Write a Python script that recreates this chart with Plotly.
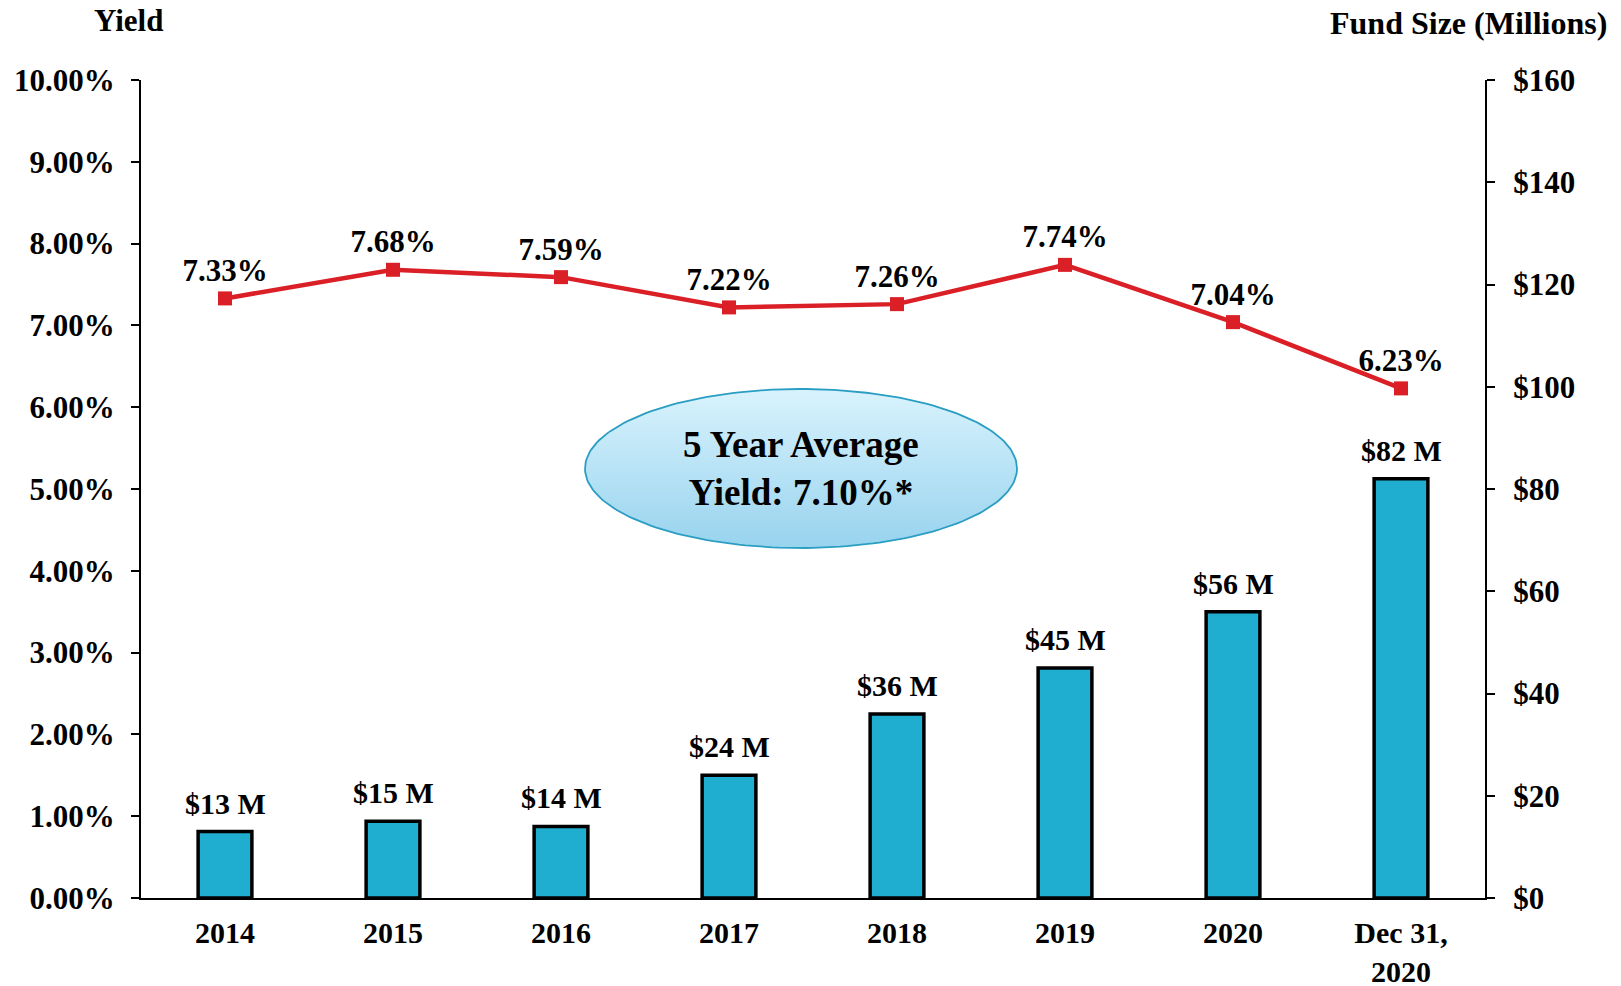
import numpy as np
import plotly.graph_objects as go

categories = ["2014", "2015", "2016", "2017", "2018", "2019", "2020", "Dec 31,<br>2020"]
yield_pct = [7.33, 7.68, 7.59, 7.22, 7.26, 7.74, 7.04, 6.23]
fund_size = [13, 15, 14, 24, 36, 45, 56, 82]
left_ticks = [0, 1, 2, 3, 4, 5, 6, 7, 8, 9, 10]
right_ticks = [0, 20, 40, 60, 80, 100, 120, 140, 160]

FONT = "Liberation Serif, Times New Roman, serif"
W, H = 1621, 986
# plot area in page pixels: x 141..1485, y 80..898
L, T = 141, 80
R, B = W - 1485, H - 898
PW, PH = W - L - R, H - T - B
FS = 31


def px(x):
    return (x - L) / PW


def py(y):
    return (H - B - y) / PH


fig = go.Figure()

fig.add_trace(go.Bar(
    x=categories, y=fund_size, yaxis="y2",
    marker=dict(color="#1FAED0", line=dict(color="black", width=3.5)),
    width=0.32, showlegend=False, hoverinfo="x+y",
))

for i, v in enumerate(fund_size):
    fig.add_annotation(
        x=i, y=v, xref="x", yref="y2", text=f"<b>${v} M</b>",
        showarrow=False, yanchor="bottom", yshift=10,
        font=dict(family=FONT, size=30, color="black"),
    )

fig.add_trace(go.Scatter(
    x=categories, y=yield_pct, yaxis="y",
    mode="lines+markers+text",
    line=dict(color="#DA1F26", width=4.5),
    marker=dict(symbol="square", size=14, color="#DA1F26"),
    text=[f"{v:.2f}%" for v in yield_pct], textposition="top center",
    textfont=dict(family=FONT, size=FS, color="black", weight=700),
    cliponaxis=False, showlegend=False,
))

# Decorative ellipse callout on an overlay unit axis
ex0, ex1, ey0, ey1 = px(585), px(1017), py(548), py(389)
t = np.linspace(0, 2 * np.pi, 200)
cx, cy = (ex0 + ex1) / 2, (ey0 + ey1) / 2
rx, ry = (ex1 - ex0) / 2, (ey1 - ey0) / 2
fig.add_trace(go.Scatter(
    x=cx + rx * np.cos(t), y=cy + ry * np.sin(t),
    xaxis="x3", yaxis="y3", mode="lines", fill="toself",
    line=dict(color="#2A9EC2", width=1.8),
    fillgradient=dict(type="vertical",
                      colorscale=[[0, "#98D3EE"], [1, "#D9F3FD"]]),
    hoverinfo="skip", showlegend=False,
))

fig.add_annotation(
    x=cx, y=cy, xref="paper", yref="paper",
    text="<b>5 Year Average<br>Yield: 7.10%*</b>", showarrow=False,
    font=dict(family=FONT, size=37, color="black"), align="center",
)

fig.add_annotation(
    x=px(128), y=py(21),
    xref="paper", yref="paper", text="<b>Yield</b>", showarrow=False,
    font=dict(family=FONT, size=FS, color="black"), xanchor="center", yanchor="middle",
)
fig.add_annotation(
    x=px(1609), y=py(23),
    xref="paper", yref="paper", text="<b>Fund Size (Millions)</b>", showarrow=False,
    font=dict(family=FONT, size=32, color="black"), xanchor="right", yanchor="middle",
)

tickfont = dict(family=FONT, size=FS, color="black", weight=700)

fig.update_layout(
    width=W, height=H,
    margin=dict(l=L, r=R, t=T, b=B, autoexpand=False),
    paper_bgcolor="white", plot_bgcolor="white",
    bargap=0.5,
    xaxis=dict(
        type="category", range=[-0.5, len(categories) - 0.5],
        showline=True, linecolor="black", linewidth=2,
        ticks="", showgrid=False,
        tickfont=dict(family=FONT, size=30, color="black", weight=700),
        ticklabelstandoff=7, automargin=False,
    ),
    yaxis=dict(
        range=[0, 10], tickvals=left_ticks,
        ticktext=[f"{v:.2f}%" for v in left_ticks],
        showline=True, linecolor="black", linewidth=2,
        ticks="outside", ticklen=8, tickwidth=2, tickcolor="black",
        showgrid=False, zeroline=False, tickfont=tickfont, ticklabelstandoff=10,
        automargin=False,
    ),
    yaxis2=dict(
        range=[0, 160], tickvals=right_ticks,
        ticktext=[f"${v}" for v in right_ticks],
        overlaying="y", side="right",
        showline=True, linecolor="black", linewidth=2,
        ticks="outside", ticklen=8, tickwidth=2, tickcolor="black",
        showgrid=False, zeroline=False, tickfont=tickfont, ticklabelstandoff=12,
        automargin=False,
    ),
    xaxis3=dict(overlaying="x", range=[0, 1], visible=False, fixedrange=True),
    yaxis3=dict(overlaying="y", range=[0, 1], visible=False, fixedrange=True),
)

fig.write_html(
    "out.html",
    config={"displayModeBar": False},
    post_script="document.body.style.margin='0';document.body.style.overflow='hidden';",
)
